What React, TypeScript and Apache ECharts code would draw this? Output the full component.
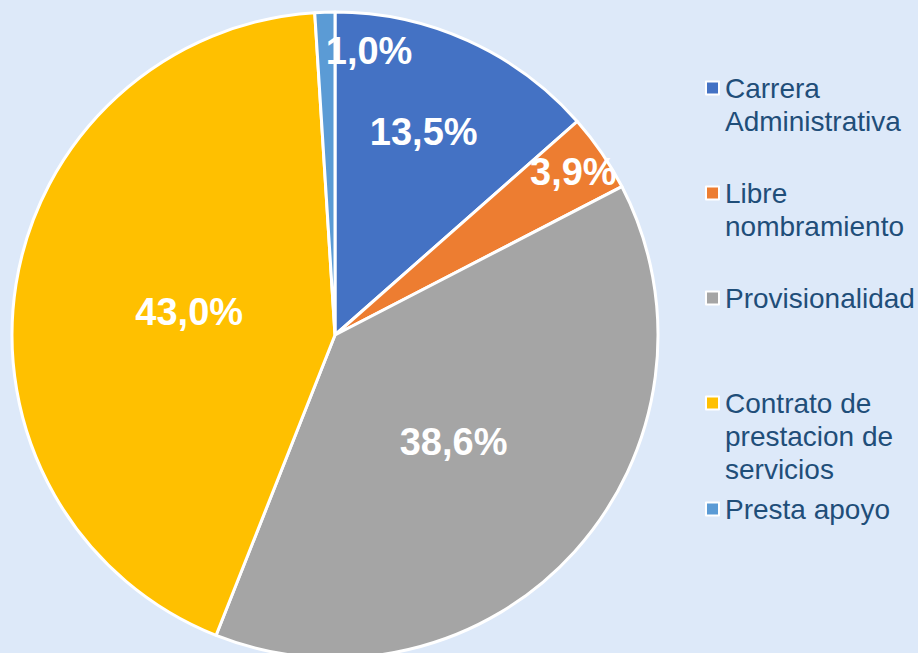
import React, { useEffect, useRef } from "react";
import * as echarts from "echarts";

const categories = [
  "Carrera Administrativa",
  "Libre nombramiento",
  "Provisionalidad",
  "Contrato de prestacion de servicios",
  "Presta apoyo",
];
const legendLines: string[][] = [
  ["Carrera", "Administrativa"],
  ["Libre", "nombramiento"],
  ["Provisionalidad"],
  ["Contrato de", "prestacion de", "servicios"],
  ["Presta apoyo"],
];
const values = [13.5, 3.9, 38.6, 43.0, 1.0];
const colors = ["#4472C4", "#ED7D31", "#A5A5A5", "#FFC000", "#5B9BD5"];

// style constants (label placement within slices, legend rows)
const labelRadiusFrac = [0.69, 0.894, 0.495, 0.457, 0.88];
const labelDx = [-3, 0, 0, 0, 43];
const legendRowCenters = [88, 193, 298, 403, 509];

const CX = 335;
const CY = 335;
const R = 323;
const LINE_H = 33;

export default function App() {
  const ref = useRef<HTMLDivElement>(null);
  useEffect(() => {
    if (!ref.current) return;
    const chart = echarts.init(ref.current, null, { renderer: "svg" });
    const total = values.reduce((a, b) => a + b, 0);
    const mids: number[] = [];
    let acc = 0;
    values.forEach((v) => {
      const mid = 90 - ((acc + v / 2) / total) * 360;
      mids.push((mid * Math.PI) / 180);
      acc += v;
    });

    const legends = categories.map((name, i) => {
      const lines = legendLines[i];
      const n = lines.length;
      const padded = Array(n - 1).fill("").concat(lines).join("\n");
      const totalLines = 2 * n - 1;
      return {
        data: [name],
        orient: "vertical",
        left: 705,
        top: legendRowCenters[i] - (totalLines * LINE_H) / 2,
        icon: "rect",
        itemWidth: 13,
        itemHeight: 13,
        selectedMode: false,
        padding: 0,
        itemStyle: { borderColor: "#ffffff", borderWidth: 2 },
        formatter: () => padded,
        textStyle: {
          color: "#1F4E79",
          fontSize: 28,
          lineHeight: LINE_H,
          fontFamily: "Liberation Sans, Arial, sans-serif",
          padding: [0, 0, 0, 1],
        },
      };
    });

    chart.setOption({
      animation: false,
      backgroundColor: "#DDE9F9",
      color: colors,
      legend: legends,
      series: [
        {
          type: "pie",
          center: [CX, CY],
          radius: R,
          startAngle: 90,
          clockwise: true,
          avoidLabelOverlap: false,
          itemStyle: { borderColor: "#ffffff", borderWidth: 3 },
          label: {
            show: true,
            position: "inside",
            color: "#ffffff",
            fontSize: 38,
            fontWeight: "bold",
            fontFamily: "Liberation Sans, Arial, sans-serif",
            formatter: (p: any) => `${Number(p.value).toFixed(1).replace(".", ",")}%`,
          },
          labelLine: { show: false },
          labelLayout: (params: any) => {
            const i = params.dataIndex;
            const a = mids[i];
            const r = labelRadiusFrac[i] * R;
            return {
              x: CX + r * Math.cos(a) + labelDx[i],
              y: CY - r * Math.sin(a),
              align: "center",
              verticalAlign: "middle",
              hideOverlap: false,
            };
          },
          data: categories.map((name, i) => ({ name, value: values[i] })),
        },
      ],
    });
    return () => chart.dispose();
  }, []);
  return (
    <div
      ref={ref}
      style={{ position: "fixed", left: 0, top: 0, width: 918, height: 653 }}
    />
  );
}
